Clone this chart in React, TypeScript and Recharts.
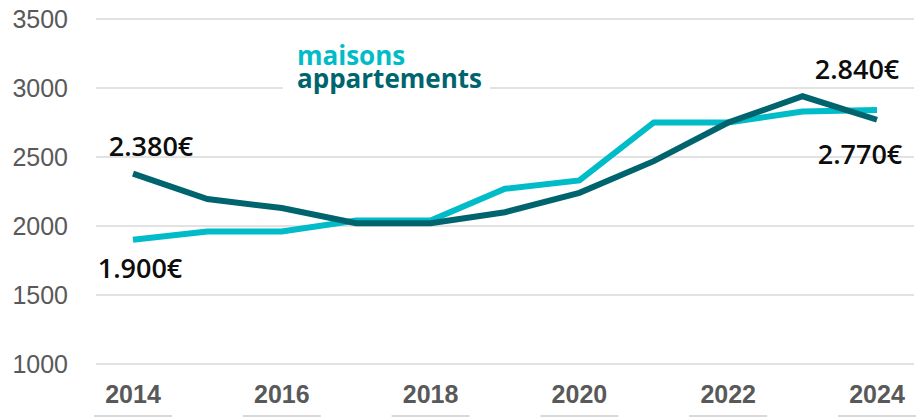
import React from 'react';
import { LineChart, Line, XAxis, YAxis, CartesianGrid, LabelList } from 'recharts';

const years = [2014, 2015, 2016, 2017, 2018, 2019, 2020, 2021, 2022, 2023, 2024];
const maisons = [1900, 1960, 1960, 2040, 2040, 2270, 2330, 2750, 2750, 2830, 2840];
const appartements = [2380, 2195, 2130, 2020, 2020, 2100, 2240, 2470, 2750, 2940, 2770];
const xTicks = [2014, 2016, 2018, 2020, 2022, 2024];
const yTicks = [1000, 1500, 2000, 2500, 3000, 3500];
const seriesNames = { maisons: 'maisons', appartements: 'appartements' };

const data = years.map((y, i) => ({ year: y, maisons: maisons[i], appartements: appartements[i] }));

const C_MAISONS = '#00BCC8';
const C_APPART = '#00646E';

const fmt = (v: number) => {
  const s = String(Math.round(v));
  return s.replace(/\B(?=(\d{3})+(?!\d))/g, '.') + '€';
};

const makeLabel = (offsets: { first: [number, number]; last: [number, number] }) => (props: any) => {
  const { x, y, value, index } = props;
  const n = years.length;
  let off: [number, number] | null = null;
  if (index === 0) off = offsets.first;
  else if (index === n - 1) off = offsets.last;
  if (!off) return null;
  return (
    <text
      x={x + off[0]}
      y={y + off[1]}
      textAnchor="middle"
      dominantBaseline="central"
      fontFamily="'Open Sans', sans-serif"
      fontWeight={600}
      fontSize={27}
      fill="#0d0d0d"
    >
      {fmt(value)}
    </text>
  );
};

const XTick = (props: any) => {
  const { x, y, payload } = props;
  return (
    <g>
      <text
        x={x}
        y={y}
        dy="0.71em"
        textAnchor="middle"
        fontFamily="'Liberation Sans', Arial, sans-serif"
        fontWeight="bold"
        fontSize={25}
        fill="#595959"
      >
        {payload.value}
      </text>
      <line x1={x - 39} x2={x + 39} y1={416} y2={416} stroke="#d9d9d9" strokeWidth={2} />
    </g>
  );
};

export default function App() {
  return (
    <div style={{ position: 'absolute', left: 0, top: 0, width: 921, height: 417, background: '#fff' }}>
      <LineChart width={921} height={417} data={data} margin={{ top: 19, right: 7, bottom: 0, left: 0 }}>
        <CartesianGrid vertical={false} stroke="#d9d9d9" strokeWidth={1.5} />
        <XAxis
          dataKey="year"
          type="number"
          domain={[2014, 2024]}
          ticks={xTicks}
          padding={{ left: 37, right: 37 }}
          axisLine={false}
          tickLine={false}
          height={53}
          tickMargin={15}
          tick={<XTick />}
          interval={0}
        />
        <YAxis
          domain={[1000, 3500]}
          ticks={yTicks}
          width={96}
          axisLine={false}
          tickLine={false}
          tickMargin={22}
          interval={0}
          tick={{ fontFamily: "'Liberation Sans', Arial, sans-serif", fontSize: 25, fill: '#595959' }}
        />
        <Line
          dataKey="maisons"
          name={seriesNames.maisons}
          stroke={C_MAISONS}
          strokeWidth={6}
          dot={false}
          isAnimationActive={false}
        >
          <LabelList dataKey="maisons" content={makeLabel({ first: [7, 28], last: [-20, -42] })} />
        </Line>
        <Line
          dataKey="appartements"
          name={seriesNames.appartements}
          stroke={C_APPART}
          strokeWidth={6}
          dot={false}
          isAnimationActive={false}
        >
          <LabelList dataKey="appartements" content={makeLabel({ first: [18, -28], last: [-17, 34] })} />
        </Line>
      </LineChart>
      <svg
        width={921}
        height={417}
        style={{ position: 'absolute', left: 0, top: 0, pointerEvents: 'none' }}
      >
        <rect x={283} y={40} width={207} height={56} fill="#fff" />
        <text x={297} y={65} fontFamily="'Open Sans', sans-serif" fontWeight="bold" fontSize={26} fill={C_MAISONS}>
          {seriesNames.maisons}
        </text>
        <text x={297} y={88} fontFamily="'Open Sans', sans-serif" fontWeight="bold" fontSize={26} fill={C_APPART}>
          {seriesNames.appartements}
        </text>
      </svg>
    </div>
  );
}
